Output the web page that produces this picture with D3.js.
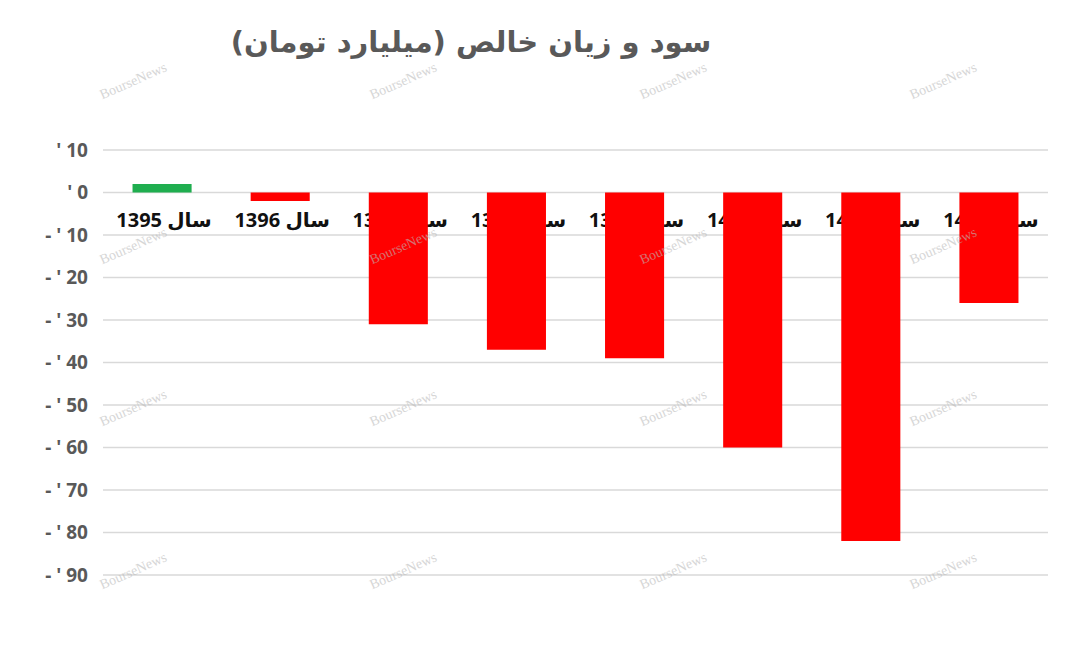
<!DOCTYPE html>
<html><head><meta charset="utf-8">
<script src="https://cdn.jsdelivr.net/npm/d3@7"></script>
<style>html,body{margin:0;padding:0;background:#fff;}</style>
</head><body>
<svg id="c" width="1080" height="652"></svg>
<script>
const categories = ["سال 1395","سال 1396","سال 1397","سال 1398","سال 1399","سال 1400","سال 1401","سال 1402"];
const values = [2, -2, -31, -37, -39, -60, -82, -26];
const tickValues = [10, 0, -10, -20, -30, -40, -50, -60, -70, -80, -90];
const tickLabels = ["' 10","' 0","- ' 10","- ' 20","- ' 30","- ' 40","- ' 50","- ' 60","- ' 70","- ' 80","- ' 90"];
const title = "سود و زیان خالص (میلیارد تومان)";
const watermark = "BourseNews";

const svg = d3.select("#c");
const x = d3.scaleBand().domain(categories).range([103, 1048]).paddingInner(0.5).paddingOuter(0.25);
const y = d3.scaleLinear().domain([-90, 10]).range([575, 150]);

// grid
svg.append("g").selectAll("line").data(tickValues).join("line")
  .attr("x1", 103).attr("x2", 1048)
  .attr("y1", d => y(d)).attr("y2", d => y(d))
  .attr("stroke", "#d9d9d9").attr("stroke-width", 1.3);

// y tick labels
const yAxis = d3.axisLeft(y).tickValues(tickValues).tickSize(0).tickPadding(0)
  .tickFormat(d => tickLabels[tickValues.indexOf(d)]);
const ya = svg.append("g").attr("transform", "translate(88,0)").call(yAxis);
ya.select(".domain").remove();
ya.selectAll("text").attr("font-family", "'Open Sans','DejaVu Sans',sans-serif")
  .attr("font-size", 19).attr("font-weight", "bold").attr("fill", "#595959")
  .attr("direction", "ltr").attr("dy", "0.34em");

// x labels (behind bars)
svg.append("g").selectAll("text").data(categories).join("text")
  .attr("x", d => x(d) + x.bandwidth() / 2 + 2).attr("y", 227)
  .attr("text-anchor", "middle")
  .attr("font-family", "'Open Sans','DejaVu Sans',sans-serif")
  .attr("font-size", 20).attr("font-weight", "bold").attr("fill", "#111")
  .text(d => d);

// bars
svg.append("g").selectAll("rect").data(values).join("rect")
  .attr("x", (d, i) => x(categories[i]))
  .attr("width", x.bandwidth())
  .attr("y", d => y(Math.max(0, d)))
  .attr("height", d => Math.abs(y(d) - y(0)))
  .attr("fill", d => d >= 0 ? "#1fae4f" : "#ff0000");

// title
svg.append("text").attr("x", 471).attr("y", 52).attr("text-anchor", "middle")
  .style("direction", "rtl").style("unicode-bidi", "embed")
  .attr("font-family", "'DejaVu Sans',sans-serif").attr("font-size", 29)
  .attr("font-weight", "bold").attr("fill", "#595959")
  .text("\u202B" + title + "\u202C");

// watermarks
const wmX = [135, 405, 675, 945];
const wmY = [85, 250, 412, 575];
const wm = [];
wmY.forEach(yy => wmX.forEach(xx => wm.push([xx, yy])));
svg.append("g").selectAll("text").data(wm).join("text")
  .attr("transform", d => `translate(${d[0]},${d[1]}) rotate(-24)`)
  .attr("text-anchor", "middle")
  .attr("font-family", "'Liberation Serif',serif").attr("font-size", 14)
  .attr("fill", "#bbbbbb").attr("opacity", 0.6).text(watermark);
</script>
</body></html>
